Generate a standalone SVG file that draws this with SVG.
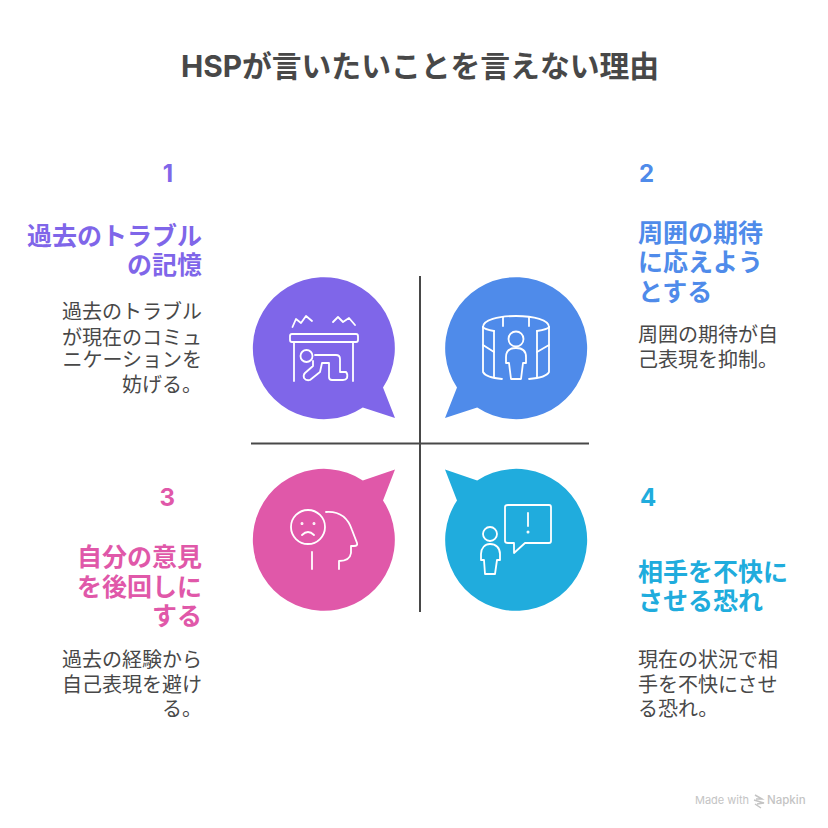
<svg xmlns="http://www.w3.org/2000/svg" width="828" height="828" viewBox="0 0 828 828">
<style>
text{font-family:"Inter","Noto Sans CJK JP","Liberation Sans",sans-serif}
.t{font-size:29.800px;font-weight:700;fill:#484848}
.n{font-size:24px;font-weight:700}
.h{font-size:25px;font-weight:700}
.b{font-size:20px;fill:#484848}
.e{text-anchor:end}
.ic{fill:none;stroke:#fff;stroke-width:1.800;stroke-linecap:round;stroke-linejoin:round}
.p{fill:#7f66e9}.bl{fill:#4f8bea}.m{fill:#e058a9}.c{fill:#20acdd}
</style>
<rect width="828" height="828" fill="#fff"/>
<text class="t" x="420" y="77" text-anchor="middle">HSPが言いたいことを言えない理由</text>
<g id="connectors" stroke="#484848" stroke-width="2" fill="none">
<path d="M420 276V612"/>
<path d="M251 443.500H589"/>
</g>
<g id="node1">
<path class="p" d="M395 418L362.800 407.500A71 71 0 1 1 383 387.400Z"/>
<g class="ic">
<path d="M292.500 327L296 319L301 323L306 316L312 321"/>
<path d="M333 322L338 317L343 322L349 318L355 325"/>
<rect x="290" y="334" width="68" height="8" rx="2"/>
<path d="M294 342V381M353 342V381"/>
<circle cx="306.500" cy="356" r="6"/>
<path d="M315 355H336Q340 355 340 359V372H346Q348 374 347 378Q346 380 343 380H332Q329 380 329 377V363H322L320 372L310 380Q306 381 304 378Q303 375 305 373L313 366V361"/>
</g>
</g>
<g id="node2">
<path class="bl" d="M445 418L457 387.400A71 71 0 1 1 477.200 407.500Z"/>
<g class="ic">
<path d="M483 327C483 320 498 316 516 316C534 316 549 320 549 327"/>
<path d="M483 327C484 329 488 330 494 331M549 327C548 329 543 330 537 331"/>
<path d="M483 327V372C485 376 491 378 502 379M549 327V372C547 376 541 378 529 379"/>
<path d="M503 317V326M529 317V326"/>
<path d="M494 331V377M537 331V377"/>
<path d="M483 345L494 352M549 345L537 352"/>
<circle cx="516" cy="339" r="7.500"/>
<path d="M511 379L509 363H506V357C506 351 510 348 516 348C522 348 526 351 526 357V363H523L521 379Z"/>
</g>
</g>
<g id="node3">
<path class="m" d="M395 469.500L383 500.600A71 71 0 1 1 362.800 480.500Z"/>
<g class="ic">
<circle cx="308" cy="527" r="17"/>
<circle cx="302" cy="523.500" r=".6"/><circle cx="314" cy="523.500" r=".6"/>
<path d="M302 535Q308 529 314 535"/>
<path d="M326 512C340 511 348 518 352 530L357 543Q358 546 354 546H351V553Q350 561 339 561V569"/>
<path d="M312 552V569"/>
</g>
</g>
<g id="node4">
<path class="c" d="M445 469.500L477.200 480.500A71 71 0 1 1 457 500.600Z"/>
<g class="ic">
<circle cx="490" cy="534" r="7"/>
<path d="M485 574L484 560H481V554C481 548 485 544 490 544C496 544 500 548 500 554V560H497L495 574Z"/>
<path d="M508 505H549Q551 505 551 507V541Q551 543 549 543H525L514 553V543H508Q505 543 505 541V507Q505 505 508 505Z"/>
<path d="M528 513V526"/>
<circle cx="528" cy="532" r=".6"/>
</g>
</g>
<g id="label1">
<text class="n e p" x="173" y="182">1</text>
<text class="h e p" x="202" y="245">過去のトラブル</text>
<text class="h e p" x="202" y="274">の記憶</text>
<text class="b e" x="202" y="319">過去のトラブル</text>
<text class="b e" x="202" y="345">が現在のコミュ</text>
<text class="b e" x="202" y="367">ニケーションを</text>
<text class="b e" x="202" y="392">妨げる。</text>
</g>
<g id="label2">
<text class="n bl" x="639" y="182">2</text>
<text class="h bl" x="638" y="242">周囲の期待</text>
<text class="h bl" x="638" y="271">に応えよう</text>
<text class="h bl" x="638" y="301">とする</text>
<text class="b" x="638" y="342">周囲の期待が自</text>
<text class="b" x="638" y="367">己表現を抑制。</text>
</g>
<g id="label3">
<text class="n e m" x="175" y="506">3</text>
<text class="h e m" x="202" y="566">自分の意見</text>
<text class="h e m" x="202" y="596">を後回しに</text>
<text class="h e m" x="202" y="625">する</text>
<text class="b e" x="202" y="667">過去の経験から</text>
<text class="b e" x="202" y="692">自己表現を避け</text>
<text class="b e" x="202" y="716">る。</text>
</g>
<g id="label4">
<text class="n c" x="640" y="506">4</text>
<text class="h c" x="638" y="581">相手を不快に</text>
<text class="h c" x="638" y="610">させる恐れ</text>
<text class="b" x="638" y="667">現在の状況で相</text>
<text class="b" x="638" y="692">手を不快にさせ</text>
<text class="b" x="638" y="716">る恐れ。</text>
</g>
<text id="credit" x="695" y="804" font-size="11" fill="#c4c4c4" style="font-family:Inter,'Liberation Sans',sans-serif">Made with</text>
<g id="credit-mark" fill="none" stroke="#c4c4c4" stroke-width="1.500"><path d="M755 795L762 799L756 799M754 800L764 803L757 804M755 804L761 808"/></g>
<text id="credit2" x="767" y="804" font-size="11.500" font-weight="500" fill="#c4c4c4" style="font-family:Inter,'Liberation Sans',sans-serif">Napkin</text>
</svg>
